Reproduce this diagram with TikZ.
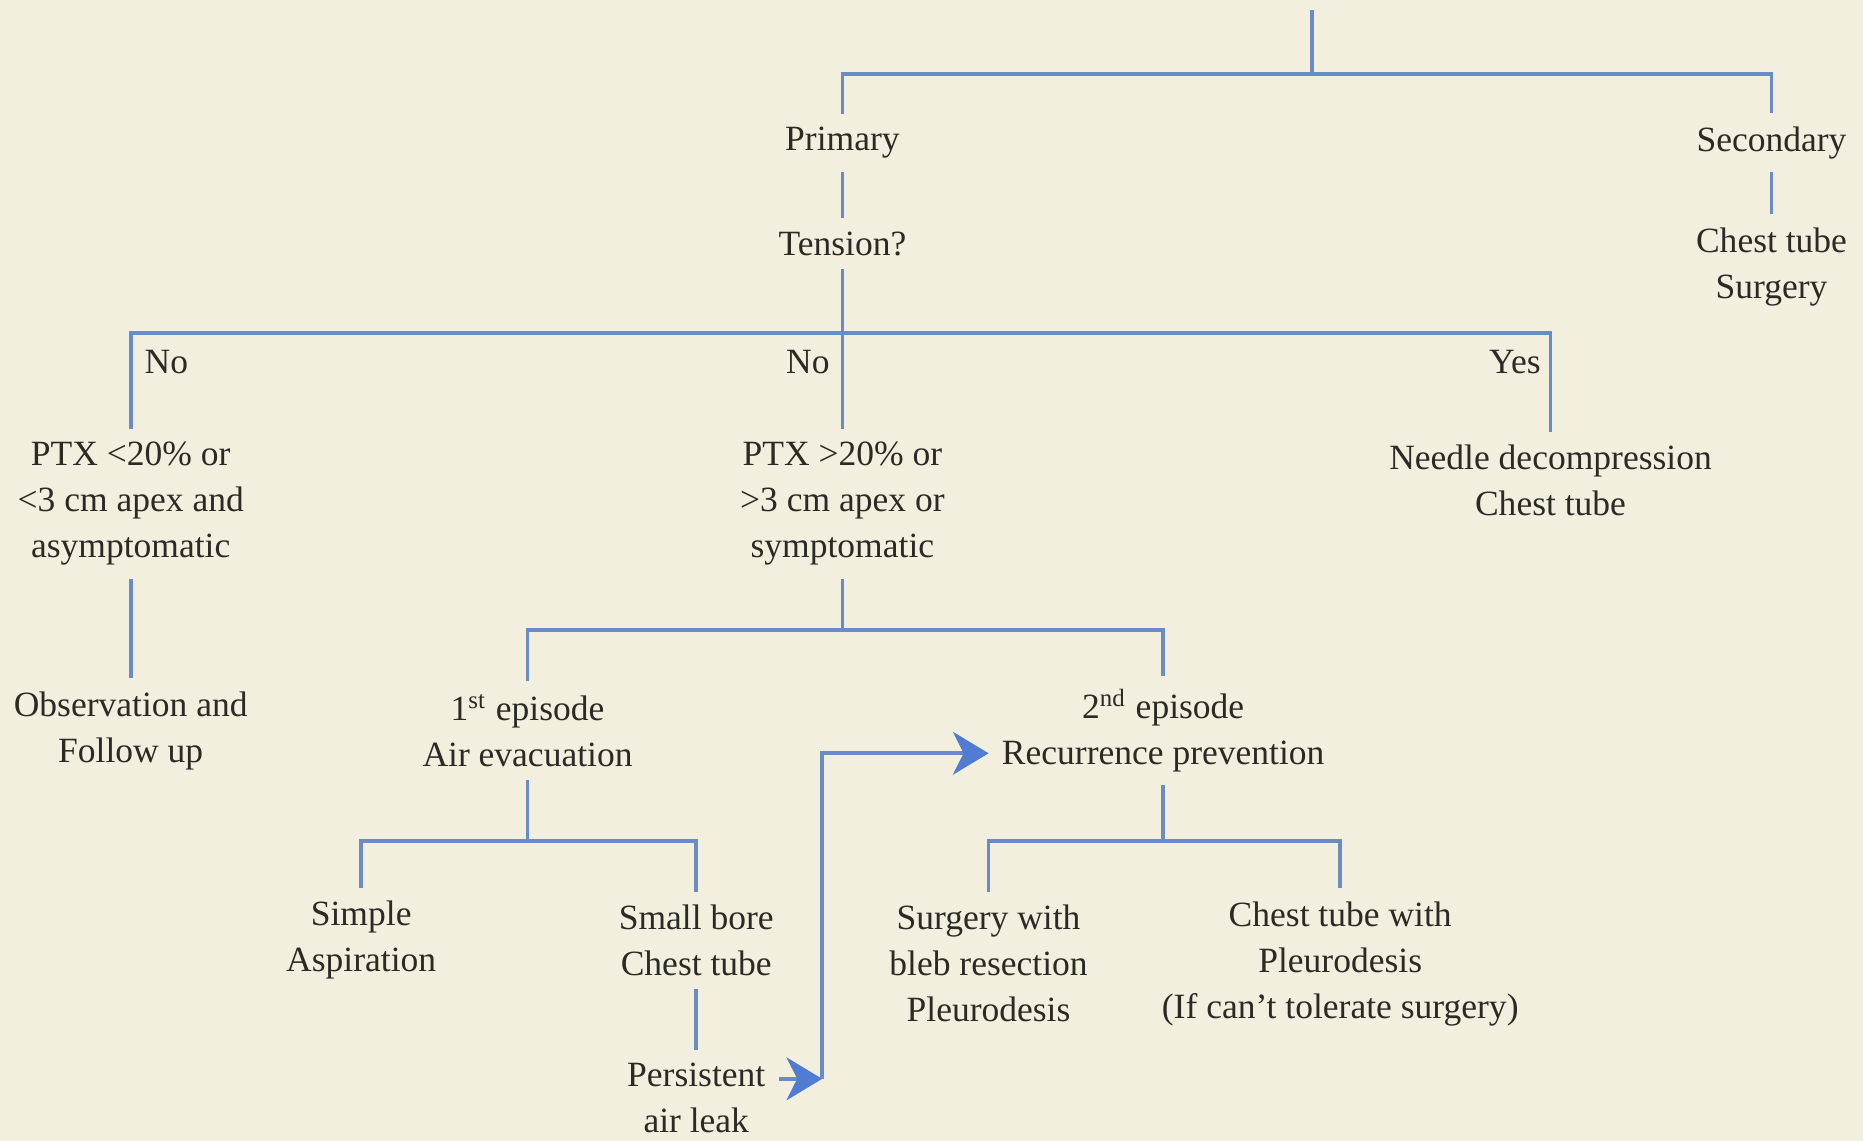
\documentclass[tikz,border=0pt]{standalone}
\usepackage{fontspec}
\setmainfont{Liberation Serif}
\usepackage{tikz}
\usetikzlibrary{arrows.meta}

\definecolor{paper}{RGB}{243,239,222}
\definecolor{ink}{RGB}{45,42,38}
\definecolor{wire}{RGB}{105,140,200}
\definecolor{tip}{RGB}{80,125,210}

\tikzset{
  box/.style={text=ink,align=center,inner sep=3pt,font=\fontsize{8.5}{11}\selectfont},
  link/.style={wire,line width=0.9pt},
  flow/.style={link,-{Stealth[length=3mm,width=3.6mm,inset=0.9mm,color=tip]}}
}

\begin{document}
\begin{tikzpicture}[x=0.01cm,y=-0.01cm]
  \fill[paper] (0,0) rectangle (1568,960);
  \useasboundingbox (0,0) rectangle (1568,960);

  \node[box] (primary) at (709,120) {Primary};
  \node[box] (secondary) at (1491,120) {Secondary};
  \node[box] (tension) at (709,205) {Tension?};
  \node[box] (chest) at (1491,224.5) {Chest tube\\Surgery};
  \node[box] (nolo) at (140,305) {No};
  \node[box] (nohi) at (680,305) {No};
  \node[box] (yes) at (1275,305) {Yes};
  \node[box] (ptxlo) at (110,424) {PTX <20\% or\\<3 cm apex and\\asymptomatic};
  \node[box] (ptxhi) at (709,424) {PTX >20\% or\\>3 cm apex or\\symptomatic};
  \node[box] (needle) at (1305,404.5) {Needle decompression\\Chest tube};
  \node[box] (observe) at (110,615) {Observation and\\Follow up};
  \node[box] (first) at (444,615) {1\textsuperscript{st} episode\\Air evacuation};
  \node[box] (second) at (979,615) {2\textsuperscript{nd} episode\\Recurrence prevention};
  \node[box] (simple) at (304,791.5) {Simple\\Aspiration};
  \node[box] (smallbore) at (586,791.5) {Small bore\\Chest tube};
  \node[box] (bleb) at (832,811) {Surgery with\\bleb resection\\Pleurodesis};
  \node[box] (tolerate) at (1128,811) {Chest tube with\\Pleurodesis\\(If can't tolerate surgery)};
  \node[box] (persist) at (586,924) {Persistent\\air leak};

  \coordinate (top) at (1104,8);
  \coordinate (fk0) at (1104,62);
  \coordinate (fk1) at (709,280);
  \coordinate (fk2) at (709,530);
  \coordinate (fk3) at (444,708);
  \coordinate (fk4) at (979,708);
  \coordinate (turn) at (692,908);
  \coordinate (lift) at (692,634);

  \draw[link] (top) -- (fk0);
  \draw[link] (primary.north) |- (fk0) -| (secondary.north);
  \draw[link] (primary.south) -- (tension.north);
  \draw[link] (secondary.south) -- (chest.north);
  \draw[link] (tension.south) -- (ptxhi.north);
  \draw[link] (ptxlo.north) |- (fk1) -| (needle.north);
  \draw[link] (ptxlo.south) -- (observe.north);
  \draw[link] (ptxhi.south) -- (fk2);
  \draw[link] (first.north) |- (fk2) -| (second.north);
  \draw[link] (first.south) -- (fk3);
  \draw[link] (simple.north) |- (fk3) -| (smallbore.north);
  \draw[link] (second.south) -- (fk4);
  \draw[link] (bleb.north) |- (fk4) -| (tolerate.north);
  \draw[link] (smallbore.south) -- (persist.north);
  \draw[flow] (persist.east |- turn) -- (turn);
  \draw[flow] (turn) -- (lift) -- (lift -| second.west);
\end{tikzpicture}
\end{document}
